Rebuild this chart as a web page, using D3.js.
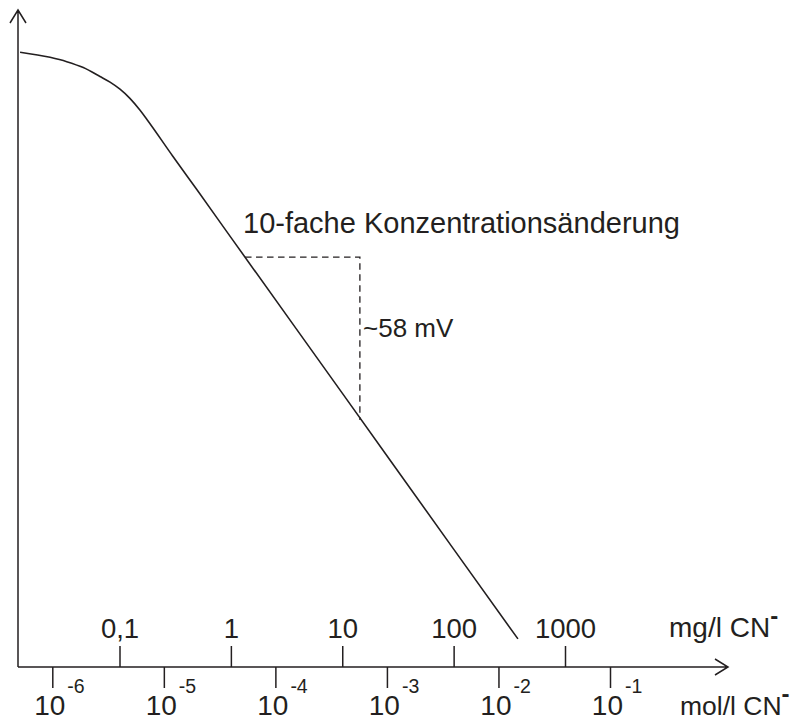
<!DOCTYPE html>
<html>
<head>
<meta charset="utf-8">
<script src="https://cdn.jsdelivr.net/npm/d3@7/dist/d3.min.js"></script>
<style>
  body { margin: 0; background: #fff; }
  text { font-family: "Liberation Sans", Arial, sans-serif; fill: #231f20; }
</style>
</head>
<body>
<div id="chart"></div>
<script>
// Electrode potential (mV, relative) against cyanide concentration in mg/l
const concMg = [0.0128, 0.0238, 0.0336, 0.0473, 0.0668, 0.0822, 0.101, 0.124, 0.153, 0.177, 0.3, 0.5, 1, 10, 100, 378];
const potential = [227.4, 225.5, 223.9, 221.7, 218.4, 216.3, 213.7, 210.3, 205.9, 202.4, 189.0, 176.3, 158.9, 101.3, 43.6, 10.4];

// Upper axis row (mg/l) and lower axis row (mol/l)
const mgTicks = [0.1, 1, 10, 100, 1000];
const mgLabels = ["0,1", "1", "10", "100", "1000"];
const molTicks = [1e-6, 1e-5, 1e-4, 1e-3, 1e-2, 1e-1];
const molExponents = ["-6", "-5", "-4", "-3", "-2", "-1"];

// Slope triangle: one decade of concentration
const triConc = [1.34, 14.4];
const triPotential = [151.6, 91.4];

const width = 791, height = 725;
const ink = "#231f20";
const originX = 18, originY = 667;
const axisEndX = 728, axisTopY = 10;

const svg = d3.select("#chart")
    .append("svg")
    .attr("width", width)
    .attr("height", height);

const x = d3.scaleLog()
    .domain([0.1, 1000])
    .range([119.5, 565]);

const xMol = d3.scaleLog()
    .domain([1e-6, 1e-1])
    .range([52.3, 610]);

const y = d3.scaleLinear()
    .domain([0, 243])
    .range([originY, axisTopY]);

// Axis lines with open arrow heads
svg.append("path")
    .attr("d", `M${originX},${originY}H${axisEndX}M${axisEndX - 13},${originY - 8}L${axisEndX},${originY}L${axisEndX - 13},${originY + 8}`)
    .attr("fill", "none")
    .attr("stroke", ink)
    .attr("stroke-width", 1.5);

svg.append("path")
    .attr("d", `M${originX},${originY}V${axisTopY}M${originX - 8},${axisTopY + 13}L${originX},${axisTopY}L${originX + 8},${axisTopY + 13}`)
    .attr("fill", "none")
    .attr("stroke", ink)
    .attr("stroke-width", 1.5);

// mg/l ticks above the axis
const mgAxis = svg.append("g")
    .attr("transform", `translate(0,${originY})`)
    .call(d3.axisTop(x)
        .tickValues(mgTicks)
        .tickFormat((d, i) => mgLabels[i])
        .tickSize(21)
        .tickPadding(8));
mgAxis.select(".domain").remove();
mgAxis.selectAll("line").attr("stroke", ink).attr("stroke-width", 1.5);
mgAxis.selectAll("text")
    .attr("fill", ink)
    .style("font-size", "27.5px")
    .style("font-family", "'Liberation Sans', Arial, sans-serif");

// mol/l ticks below the axis, labels drawn as 10 with exponent
const molAxis = svg.append("g")
    .attr("transform", `translate(0,${originY})`)
    .call(d3.axisBottom(xMol)
        .tickValues(molTicks)
        .tickFormat("")
        .tickSize(21));
molAxis.select(".domain").remove();
molAxis.selectAll("line").attr("stroke", ink).attr("stroke-width", 1.5);

const molLabel = svg.append("g")
    .selectAll("g")
    .data(molTicks)
    .enter()
    .append("g")
    .attr("transform", d => `translate(${xMol(d)},0)`);

molLabel.append("text")
    .attr("x", 13)
    .attr("y", 715)
    .attr("text-anchor", "end")
    .style("font-size", "28px")
    .text("10");

molLabel.append("text")
    .attr("x", 15)
    .attr("y", 693)
    .style("font-size", "19.5px")
    .text((d, i) => molExponents[i]);

// Unit labels
const mgUnit = svg.append("text")
    .attr("x", 669)
    .attr("y", 637)
    .style("font-size", "28px")
    .text("mg/l CN");
mgUnit.append("tspan")
    .attr("dy", -13)
    .style("font-size", "24px")
    .style("font-weight", "bold")
    .text("-");

const molUnit = svg.append("text")
    .attr("x", 680)
    .attr("y", 715)
    .style("font-size", "26.5px")
    .text("mol/l CN");
molUnit.append("tspan")
    .attr("dy", -13)
    .style("font-size", "24px")
    .style("font-weight", "bold")
    .text("-");

// Response curve
svg.append("path")
    .datum(concMg.map((c, i) => ({c: c, e: potential[i]})))
    .attr("fill", "none")
    .attr("stroke", ink)
    .attr("stroke-width", 1.6)
    .attr("d", d3.line()
        .x(d => x(d.c))
        .y(d => y(d.e))
        .curve(d3.curveMonotoneX)
    );

// Dashed slope triangle
svg.append("path")
    .attr("d", `M${x(triConc[0])},${y(triPotential[0])}H${x(triConc[1])}V${y(triPotential[1])}`)
    .attr("fill", "none")
    .attr("stroke", ink)
    .attr("stroke-width", 1.3)
    .attr("stroke-dasharray", "6.5,4.5");

svg.append("text")
    .attr("x", 243)
    .attr("y", 233)
    .style("font-size", "29px")
    .text("10-fache Konzentrationsänderung");

svg.append("text")
    .attr("x", 363)
    .attr("y", 337)
    .style("font-size", "26px")
    .text("~58 mV");
</script>
</body>
</html>
